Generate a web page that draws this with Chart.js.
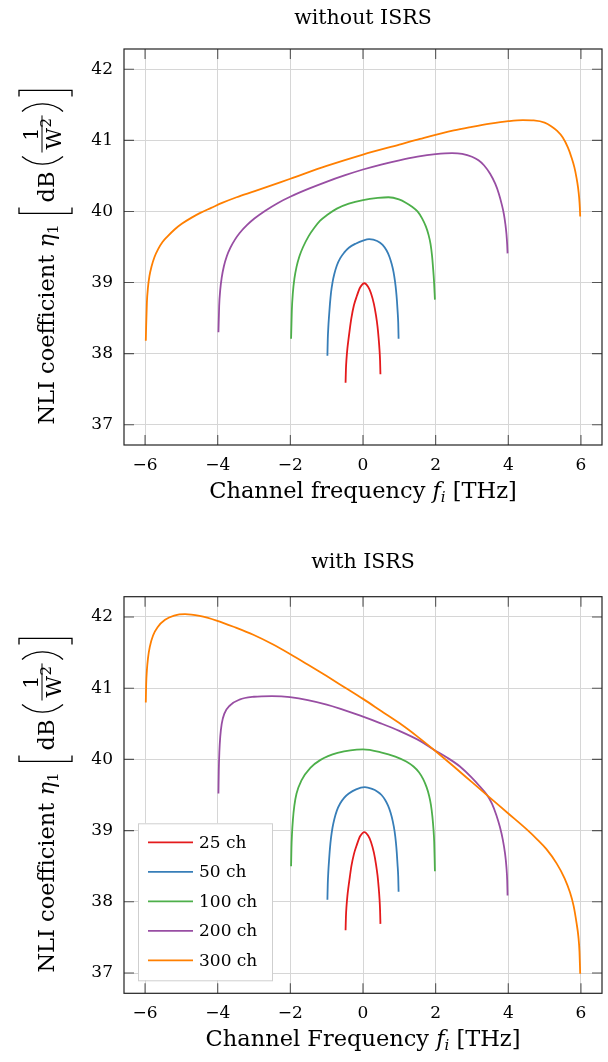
<!DOCTYPE html>
<html><head><meta charset="utf-8">
<script src="https://cdn.jsdelivr.net/npm/chart.js@4.4.0/dist/chart.umd.min.js"></script>
<style>
html,body{margin:0;padding:0;background:#fff;}
#wrap{position:relative;width:608px;height:1062px;}
.c{position:absolute;left:0;width:608px;height:531px;}
</style></head><body>
<div id="wrap">
<div class="c" style="top:0"><canvas id="c1" width="608" height="531"></canvas></div>
<div class="c" style="top:531px"><canvas id="c2" width="608" height="531"></canvas></div>
</div>
<script>
const FAM = "'DejaVu Serif', serif";
const seriesLabels = ['25 ch', '50 ch', '100 ch', '200 ch', '300 ch'];
const seriesColors = ['#e41a1c', '#377eb8', '#4daf4a', '#984ea3', '#ff7f00'];
const xTickValues = [-6, -4, -2, 0, 2, 4, 6];
const yTickValues = [37, 38, 39, 40, 41, 42];
const titleTop = 'without ISRS';
const titleBottom = 'with ISRS';
const xLabelTop = 'Channel frequency ';
const xLabelBottom = 'Channel Frequency ';

// ---- without ISRS ----
const f25a = [-0.48, -0.47, -0.455, -0.43, -0.4, -0.36, -0.32, -0.25, -0.17, -0.08, 0.04, 0.14, 0.22, 0.3, 0.36, 0.4, 0.43, 0.455, 0.47, 0.48];
const eta25a = [37.59, 37.78, 37.92, 38.07, 38.2, 38.36, 38.5, 38.68, 38.81, 38.93, 38.99, 38.94, 38.85, 38.7, 38.53, 38.38, 38.22, 38.05, 37.9, 37.71];
const f50a = [-0.98, -0.97, -0.955, -0.935, -0.91, -0.88, -0.84, -0.79, -0.72, -0.63, -0.52, -0.39, -0.19, 0, 0.17, 0.39, 0.54, 0.65, 0.73, 0.79, 0.84, 0.88, 0.91, 0.935, 0.955, 0.97, 0.98];
const eta50a = [37.97, 38.2, 38.37, 38.53, 38.7, 38.86, 39.0, 39.12, 39.24, 39.34, 39.42, 39.49, 39.55, 39.59, 39.61, 39.585, 39.53, 39.45, 39.36, 39.26, 39.15, 39.02, 38.89, 38.74, 38.58, 38.43, 38.21];
const f100a = [-1.98, -1.96, -1.93, -1.89, -1.83, -1.75, -1.65, -1.5, -1.34, -1.18, -0.99, -0.72, -0.39, 0, 0.41, 0.7, 0.99, 1.19, 1.34, 1.5, 1.63, 1.73, 1.8, 1.86, 1.9, 1.93, 1.955, 1.98];
const eta100a = [38.21, 38.6, 38.86, 39.05, 39.22, 39.37, 39.5, 39.65, 39.77, 39.87, 39.95, 40.04, 40.11, 40.16, 40.19, 40.2, 40.17, 40.12, 40.07, 40.0, 39.9, 39.79, 39.68, 39.54, 39.38, 39.2, 39.02, 38.76];
const f200a = [-3.98, -3.96, -3.93, -3.89, -3.83, -3.75, -3.65, -3.53, -3.39, -3.19, -2.99, -2.69, -2.34, -1.99, -1.49, -0.99, -0.49, 0, 0.5, 1.0, 1.5, 2.0, 2.45, 2.73, 3.0, 3.18, 3.33, 3.5, 3.64, 3.74, 3.82, 3.88, 3.92, 3.95, 3.97, 3.98];
const eta200a = [38.30, 38.67, 38.90, 39.07, 39.23, 39.37, 39.49, 39.6, 39.70, 39.81, 39.9, 40.01, 40.12, 40.21, 40.32, 40.42, 40.51, 40.59, 40.66, 40.72, 40.77, 40.805, 40.82, 40.81, 40.77, 40.72, 40.65, 40.53, 40.39, 40.25, 40.1, 39.96, 39.82, 39.68, 39.53, 39.41];
const f300a = [-5.98, -5.97, -5.95, -5.92, -5.88, -5.82, -5.74, -5.64, -5.52, -5.38, -5.18, -4.98, -4.73, -4.48, -4.18, -3.88, -3.48, -2.98, -2, -1, 0, 1, 1.57, 2.5, 3.0, 3.5, 4.0, 4.4, 4.7, 5.0, 5.18, 5.33, 5.5, 5.64, 5.74, 5.82, 5.88, 5.92, 5.95, 5.97, 5.98];
const eta300a = [38.18, 38.39, 38.72, 38.93, 39.09, 39.23, 39.36, 39.47, 39.57, 39.65, 39.75, 39.83, 39.91, 39.98, 40.05, 40.12, 40.20, 40.285, 40.46, 40.64, 40.8, 40.94, 41.02, 41.14, 41.19, 41.235, 41.27, 41.285, 41.28, 41.25, 41.2, 41.14, 41.04, 40.9, 40.76, 40.62, 40.47, 40.34, 40.2, 40.05, 39.93];

// ---- with ISRS ----
const f25b = [-0.48, -0.47, -0.455, -0.43, -0.4, -0.36, -0.32, -0.25, -0.17, -0.08, 0.04, 0.14, 0.22, 0.3, 0.36, 0.4, 0.43, 0.455, 0.47, 0.48];
const eta25b = [37.6, 37.79, 37.93, 38.08, 38.21, 38.36, 38.5, 38.67, 38.8, 38.92, 38.98, 38.93, 38.84, 38.69, 38.52, 38.37, 38.21, 38.04, 37.88, 37.69];
const f50b = [-0.98, -0.97, -0.955, -0.935, -0.91, -0.88, -0.84, -0.79, -0.72, -0.63, -0.52, -0.39, -0.19, 0.05, 0.25, 0.39, 0.51, 0.61, 0.69, 0.76, 0.82, 0.87, 0.905, 0.93, 0.95, 0.97, 0.98];
const eta50b = [38.03, 38.25, 38.42, 38.58, 38.75, 38.9, 39.04, 39.16, 39.28, 39.38, 39.46, 39.52, 39.58, 39.61, 39.585, 39.55, 39.5, 39.43, 39.35, 39.25, 39.13, 38.99, 38.84, 38.69, 38.53, 38.35, 38.14];
const f100b = [-1.98, -1.97, -1.955, -1.93, -1.89, -1.83, -1.69, -1.45, -1.18, -0.7, 0, 0.49, 0.89, 1.19, 1.39, 1.54, 1.66, 1.75, 1.82, 1.87, 1.91, 1.94, 1.96, 1.98];
const eta100b = [38.5, 38.75, 38.95, 39.15, 39.35, 39.52, 39.71, 39.88, 39.99, 40.09, 40.14, 40.1, 40.04, 39.97, 39.9, 39.82, 39.72, 39.61, 39.49, 39.36, 39.2, 39.02, 38.84, 38.43];
const f200b = [-3.98, -3.97, -3.955, -3.93, -3.89, -3.82, -3.66, -3.4, -3.0, -2.51, -2.01, -1.0, 0, 0.47, 1.0, 1.57, 1.94, 2.3, 2.67, 3.0, 3.2, 3.4, 3.55, 3.67, 3.77, 3.85, 3.91, 3.95, 3.97, 3.98];
const eta200b = [39.52, 39.85, 40.1, 40.32, 40.5, 40.64, 40.76, 40.84, 40.88, 40.89, 40.875, 40.77, 40.6, 40.51, 40.4, 40.26, 40.14, 40.03, 39.9, 39.74, 39.63, 39.51, 39.38, 39.22, 39.05, 38.87, 38.68, 38.48, 38.3, 38.09];
const f300b = [-5.98, -5.97, -5.95, -5.92, -5.87, -5.78, -5.65, -5.45, -5.2, -4.9, -4.5, -4.03, -3.5, -3.02, -2.5, -2.01, -1.5, -1, -0.5, 0, 0.5, 1.0, 1.5, 2.0, 2.5, 3.0, 3.5, 4.0, 4.5, 4.78, 5.05, 5.33, 5.55, 5.7, 5.8, 5.88, 5.93, 5.96, 5.98];
const eta300b = [40.8, 41.05, 41.25, 41.42, 41.58, 41.74, 41.86, 41.96, 42.02, 42.04, 42.015, 41.95, 41.85, 41.75, 41.62, 41.48, 41.325, 41.17, 41.01, 40.85, 40.68, 40.51, 40.32, 40.115, 39.9, 39.68, 39.46, 39.24, 39.02, 38.885, 38.74, 38.54, 38.33, 38.13, 37.94, 37.7, 37.51, 37.3, 36.99];

function pts(xs, ys) { return xs.map((x, i) => ({ x: x, y: ys[i] })); }
function makeDatasets(pairs) {
  return pairs.map((p, i) => ({
    label: seriesLabels[i], data: pts(p[0], p[1]),
    borderColor: seriesColors[i], backgroundColor: seriesColors[i],
    borderWidth: 1.8, pointRadius: 0, fill: false,
    cubicInterpolationMode: 'monotone', order: pairs.length - i
  }));
}
const fmt = v => (v < 0 ? '\u2212' + Math.abs(v) : String(v));

const framePlugin = {
  id: 'pgfFrame',
  afterDatasetsDraw(chart) {
    const { ctx, chartArea: a, scales: { x, y } } = chart;
    ctx.save();
    ctx.strokeStyle = '#555'; ctx.lineWidth = 1.1;
    const L = 10;
    ctx.beginPath();
    xTickValues.forEach(v => {
      const px = x.getPixelForValue(v);
      ctx.moveTo(px, a.bottom); ctx.lineTo(px, a.bottom - L);
      ctx.moveTo(px, a.top); ctx.lineTo(px, a.top + L);
    });
    yTickValues.forEach(v => {
      const py = y.getPixelForValue(v);
      ctx.moveTo(a.left, py); ctx.lineTo(a.left + L, py);
      ctx.moveTo(a.right, py); ctx.lineTo(a.right - L, py);
    });
    ctx.stroke();
    ctx.strokeStyle = '#222'; ctx.lineWidth = 1.2;
    ctx.strokeRect(a.left, a.top, a.right - a.left, a.bottom - a.top);
    ctx.restore();
  }
};

const legendPlugin = {
  id: 'pgfLegend',
  afterDatasetsDraw(chart, args, opts) {
    if (!opts.show) return;
    const { ctx, chartArea: a } = chart;
    const ds = chart.data.datasets;
    const bx = a.left + 14, bw = 134, bh = 157, by = a.bottom - 13 - bh;
    ctx.save();
    ctx.fillStyle = '#fff'; ctx.fillRect(bx, by, bw, bh);
    ctx.strokeStyle = '#cfcfcf'; ctx.lineWidth = 1;
    ctx.strokeRect(bx + 0.5, by + 0.5, bw, bh);
    ctx.font = '17px ' + FAM; ctx.textBaseline = 'middle'; ctx.fillStyle = '#000';
    ds.forEach((d, i) => {
      const cy = by + 19 + i * 29.5;
      ctx.strokeStyle = d.borderColor; ctx.lineWidth = 1.8;
      ctx.beginPath(); ctx.moveTo(bx + 10, cy); ctx.lineTo(bx + 55, cy); ctx.stroke();
      ctx.fillText(d.label, bx + 61, cy + 1);
    });
    ctx.restore();
  }
};

const axisTitlePlugin = {
  id: 'pgfAxisTitles',
  afterDraw(chart, args, opts) {
    const { ctx, chartArea: a } = chart;
    const S = 22.5;
    ctx.save();
    ctx.fillStyle = '#000'; ctx.textBaseline = 'alphabetic';
    // x title
    const runs = [
      { t: opts.xText, font: S + 'px ' + FAM },
      { t: 'f', font: 'italic ' + S + 'px ' + FAM },
      { t: 'i', font: 'italic 15px ' + FAM, dy: 4 },
      { t: ' [THz]', font: S + 'px ' + FAM }
    ];
    let tot = 0;
    runs.forEach(r => { ctx.font = r.font; r.w = ctx.measureText(r.t).width; tot += r.w; });
    let xx = (a.left + a.right) / 2 - tot / 2;
    const by = a.bottom + 53;
    runs.forEach(r => { ctx.font = r.font; ctx.fillText(r.t, xx, by + (r.dy || 0)); xx += r.w; });

    // y title (rotated)
    const items = [
      { t: 'NLI coefficient ', font: S + 'px ' + FAM },
      { t: '\u03B7', font: 'italic ' + S + 'px ' + FAM },
      { t: '1', font: '15px ' + FAM, dy: 4 },
      { gap: 10 },
      { k: 'lbr', w: 7, up: 35, down: 18 },
      { gap: 5 },
      { t: 'dB', font: S + 'px ' + FAM },
      { gap: 6 },
      { k: 'lpar', w: 9, up: 32, down: 9 },
      { gap: 4 },
      { k: 'frac' },
      { gap: 4 },
      { k: 'rpar', w: 9, up: 32, down: 9 },
      { gap: 6 },
      { k: 'rbr', w: 7, up: 35, down: 18 }
    ];
    const fracFont = '21px ' + FAM, supFont = '15px ' + FAM;
    items.forEach(it => {
      if (it.t !== undefined) { ctx.font = it.font; it.w = ctx.measureText(it.t).width; }
      else if (it.gap !== undefined) it.w = it.gap;
      else if (it.k === 'frac') {
        ctx.font = fracFont; const wW = ctx.measureText('W').width; const w1 = ctx.measureText('1').width;
        ctx.font = supFont; const w2 = ctx.measureText('2').width;
        it.wW = wW; it.w1 = w1; it.w2 = w2; it.w = wW + w2 + 6;
      }
    });
    const total = items.reduce((s, it) => s + it.w, 0);
    ctx.translate(54, (a.top + a.bottom) / 2 + 10);
    ctx.rotate(-Math.PI / 2);
    let p = -total / 2;
    ctx.strokeStyle = '#000'; ctx.lineWidth = 1.3;
    items.forEach(it => {
      if (it.t !== undefined) { ctx.font = it.font; ctx.fillText(it.t, p, it.dy || 0); }
      else if (it.k === 'lbr') {
        ctx.beginPath(); ctx.moveTo(p + it.w, -it.up); ctx.lineTo(p + 1, -it.up); ctx.lineTo(p + 1, it.down); ctx.lineTo(p + it.w, it.down); ctx.stroke();
      } else if (it.k === 'rbr') {
        ctx.beginPath(); ctx.moveTo(p, -it.up); ctx.lineTo(p + it.w - 1, -it.up); ctx.lineTo(p + it.w - 1, it.down); ctx.lineTo(p, it.down); ctx.stroke();
      } else if (it.k === 'lpar') {
        const h = it.up + it.down;
        ctx.beginPath(); ctx.moveTo(p + it.w, -it.up);
        ctx.bezierCurveTo(p - 1, -it.up + h * 0.28, p - 1, it.down - h * 0.28, p + it.w, it.down); ctx.stroke();
      } else if (it.k === 'rpar') {
        const h = it.up + it.down;
        ctx.beginPath(); ctx.moveTo(p, -it.up);
        ctx.bezierCurveTo(p + it.w + 1, -it.up + h * 0.28, p + it.w + 1, it.down - h * 0.28, p, it.down); ctx.stroke();
      } else if (it.k === 'frac') {
        ctx.beginPath(); ctx.lineWidth = 1; ctx.moveTo(p, -12); ctx.lineTo(p + it.w, -12); ctx.stroke(); ctx.lineWidth = 1.3;
        ctx.font = fracFont; ctx.fillText('1', p + (it.w - it.w1) / 2, -16);
        const dx = p + (it.w - it.wW - it.w2) / 2;
        ctx.fillText('W', dx, 7);
        ctx.font = supFont; ctx.fillText('2', dx + it.wW + 0.5, -3);
      }
      p += it.w;
    });
    ctx.restore();
  }
};

function makeChart(id, pairs, title, titlePad, xText, xAxisH, showLegend) {
  return new Chart(document.getElementById(id), {
    type: 'line',
    data: { datasets: makeDatasets(pairs) },
    plugins: [framePlugin, legendPlugin, axisTitlePlugin],
    options: {
      responsive: false, animation: false, events: [],
      layout: { padding: { left: 0, right: 6, top: 0, bottom: 0 } },
      plugins: {
        legend: { display: false }, tooltip: { enabled: false },
        title: { display: true, fullSize: false, text: title, color: '#000', font: { family: FAM, size: 20.5, weight: 'normal' }, padding: titlePad },
        pgfLegend: { show: showLegend },
        pgfAxisTitles: { xText: xText }
      },
      scales: {
        x: {
          type: 'linear', min: -6.58, max: 6.58,
          afterBuildTicks: s => { s.ticks = xTickValues.map(v => ({ value: v })); },
          afterFit: s => { s.height = xAxisH; },
          grid: { color: '#d6d6d6', lineWidth: 1, drawTicks: false },
          border: { display: false },
          ticks: { color: '#000', font: { family: FAM, size: 17 }, padding: 10, callback: v => fmt(v), maxRotation: 0 }
        },
        y: {
          type: 'linear', min: 36.715, max: 42.285,
          afterBuildTicks: s => { s.ticks = yTickValues.map(v => ({ value: v })); },
          afterFit: s => { s.width = 124; },
          grid: { color: '#d6d6d6', lineWidth: 1, drawTicks: false },
          border: { display: false },
          ticks: { color: '#000', font: { family: FAM, size: 17 }, padding: 11, callback: v => fmt(v) }
        }
      }
    }
  });
}

makeChart('c1', [[f25a, eta25a], [f50a, eta50a], [f100a, eta100a], [f200a, eta200a], [f300a, eta300a]],
  titleTop, { top: 6.7, bottom: 17.7 }, xLabelTop, 86, false);
makeChart('c2', [[f25b, eta25b], [f50b, eta50b], [f100b, eta100b], [f200b, eta200b], [f300b, eta300b]],
  titleBottom, { top: 19.7, bottom: 21.4 }, xLabelBottom, 68.7, true);
</script>
</body></html>
